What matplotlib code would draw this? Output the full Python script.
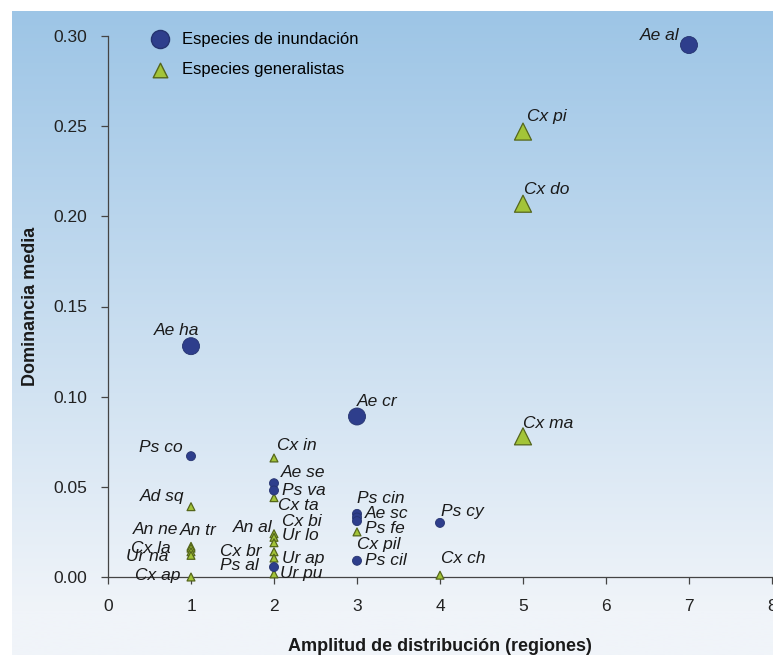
import numpy as np
import matplotlib
matplotlib.use("Agg")
import matplotlib.pyplot as plt

plt.rcParams['font.family'] = ['Liberation Sans', 'DejaVu Sans']

# --- data ---
# flood species (circles)
inund_names = ["Ae al", "Ae ha", "Ae cr", "Ps co", "Ae se", "Ps va", "Ps cin",
               "Ae sc", "Ps fe", "Ps cy", "Ps cil", "Ps al"]
inund_x = [7, 1, 3, 1, 2, 2, 3, 3, 3, 4, 3, 2]
inund_y = [0.295, 0.128, 0.089, 0.067, 0.052, 0.048, 0.035,
           0.033, 0.031, 0.030, 0.009, 0.0055]

# generalist species (triangles)
gen_names = ["Cx pi", "Cx do", "Cx ma", "Cx in", "Cx ta", "Ad sq", "An ne", "An tr",
             "Cx la", "Ur na", "Cx ap", "Cx bi", "An al", "Ur lo", "Cx br",
             "Ur ap", "Ur pu", "Cx pil", "Cx ch"]
gen_x = [5, 5, 5, 2, 2, 1, 1, 1, 1, 1, 1, 2, 2, 2, 2, 2, 2, 3, 4]
gen_y = [0.247, 0.207, 0.078, 0.066, 0.044, 0.039, 0.017, 0.016,
         0.014, 0.012, 0.000, 0.024, 0.022, 0.019, 0.014, 0.0105, 0.0017, 0.025, 0.001]

# marker size groups (large = dominant species)
inund_big = ["Ae al", "Ae ha", "Ae cr"]
gen_big = ["Cx pi", "Cx do", "Cx ma"]

# label offsets in points (dx, dy, ha)
label_pos = {
    "Ae al": (-7, 7, "right"), "Ae ha": (6, 11, "right"), "Ae cr": (0, 11, "left"),
    "Ps co": (-6, 6, "right"), "Ae se": (5, 8, "left"), "Ps va": (6, 0, "left"),
    "Ps cin": (0, 11, "left"), "Ae sc": (6, 3, "left"), "Ps fe": (6, -5, "left"),
    "Ps cy": (1, 8, "left"), "Ps cil": (6, 0, "left"), "Ps al": (-11, 1, "right"),
    "Cx pi": (3, 11, "left"), "Cx do": (1, 10, "left"), "Cx ma": (0, 9, "left"),
    "Cx in": (2, 9, "left"), "Cx ta": (3, -6, "left"), "Ad sq": (-5, 7, "right"),
    "An ne": (-9, 12, "right"), "An tr": (-8, 13, "left"), "Cx la": (-15, 2, "right"),
    "Ur na": (-16, -1, "right"), "Cx ap": (-8, 1, "right"), "Cx bi": (6, 9, "left"),
    "An al": (-1, 7, "right"), "Ur lo": (6, 5, "left"), "Cx br": (-9, 0, "right"),
    "Ur ap": (6, 0, "left"), "Ur pu": (4, 0, "left"), "Cx pil": (0, -9, "left"),
    "Cx ch": (1, 12, "left"),
}

W, H = 773, 655
fig = plt.figure(figsize=(W / 100, H / 100), dpi=100)

# gradient background panel
bg = fig.add_axes([12 / W, 0, 1 - 12 / W, 1 - 11 / H])
top = np.array([157, 197, 230]) / 255
bot = np.array([240, 244, 249]) / 255
t = np.linspace(0, 1, 256)[:, None]
t = np.clip(t / 0.93, 0, 1)
grad = top[None, :] * (1 - t) + bot[None, :] * t
bg.imshow(grad[:, None, :], aspect="auto", extent=[0, 1, 0, 1])
bg.axis("off")

ax = fig.add_axes([108 / W, 1 - 577 / H, (772 - 108) / W, (577 - 36) / H])
ax.patch.set_alpha(0)

circ_c = "#2e3e8c"
tri_fill = "#a3c438"
tri_edge = "#55661c"

s_in = [150 if n in inund_big else 42 for n in inund_names]
s_gen = [150 if n in gen_big else 32 for n in gen_names]

ax.scatter(gen_x, gen_y, s=s_gen, marker="^", c=tri_fill, edgecolors=tri_edge,
           linewidths=0.9, zorder=3, clip_on=False)
ax.scatter(inund_x, inund_y, s=s_in, marker="o", c=circ_c, edgecolors="#25336f",
           linewidths=0.6, zorder=4, clip_on=False)

for names, xs, ys in [(inund_names, inund_x, inund_y), (gen_names, gen_x, gen_y)]:
    for n, x, y in zip(names, xs, ys):
        dx, dy, ha = label_pos[n]
        ax.annotate(n, (x, y), xytext=(dx, dy), textcoords="offset points",
                    ha=ha, va="center", fontsize=12.5, style="italic",
                    color="#1a1a1a", zorder=5)

ax.set_xlim(0, 8)
ax.set_ylim(0, 0.30)
ax.set_xticks(range(0, 9))
ax.set_yticks([0, 0.05, 0.10, 0.15, 0.20, 0.25, 0.30])
ax.set_yticklabels(["0.00", "0.05", "0.10", "0.15", "0.20", "0.25", "0.30"])
ax.tick_params(direction="out", length=5, width=0.9, colors="#444444",
               labelsize=12.5, labelcolor="#222222")
ax.tick_params(axis="x", pad=11)
ax.tick_params(axis="y", pad=10)
ax.spines["top"].set_visible(False)
ax.spines["right"].set_visible(False)
for sp in ["left", "bottom"]:
    ax.spines[sp].set_color("#444444")
    ax.spines[sp].set_linewidth(0.9)

ax.set_ylabel("Dominancia media", fontsize=13, fontweight="bold", labelpad=10,
              color="#1a1a1a")
ax.set_xlabel("Amplitud de distribución (regiones)", fontsize=13,
              fontweight="bold", labelpad=17, color="#1a1a1a")

# legend
h1 = ax.scatter([], [], s=170, marker="o", c=circ_c, edgecolors="#25336f")
h2 = ax.scatter([], [], s=110, marker="^", c=tri_fill, edgecolors=tri_edge)
ax.legend([h1, h2], ["Especies de inundación", "Especies generalistas"],
          loc="upper left", bbox_to_anchor=(0.03, 1.036), frameon=False,
          fontsize=12, handletextpad=0.35, labelspacing=0.95)

fig.savefig("out.png", dpi=100)
